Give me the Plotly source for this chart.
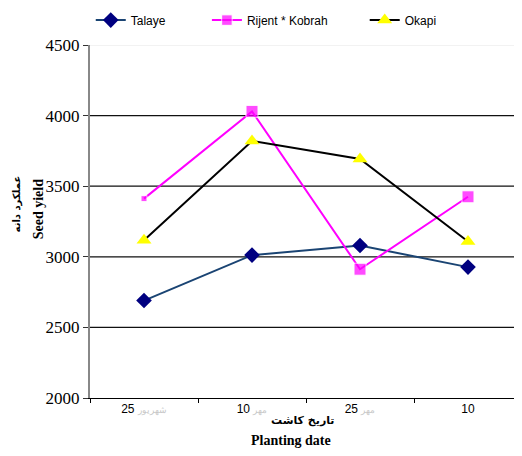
import plotly.graph_objects as go

categories = ["25 شهریور", "10 مهر", "25 مهر", "10"]
tick_numbers = ["25", "10", "25", "10"]
tick_words = ["شهریور", "مهر", "مهر", ""]
talaye = [2690, 3012, 3080, 2927]
rijent = [3412, 4030, 2912, 3425]
okapi = [3118, 3820, 3693, 3108]
rijent_sizes = [6, 12, 12, 12]
y_ticks = [2000, 2500, 3000, 3500, 4000, 4500]

fig = go.Figure()
fig.add_trace(go.Scatter(
    x=categories, y=talaye, name="Talaye", mode="lines+markers",
    line=dict(color="#1a4473", width=2),
    marker=dict(symbol="diamond", size=12, color="#000080"),
    legend="legend"))
fig.add_trace(go.Scatter(
    x=categories, y=rijent, name="Rijent * Kobrah", mode="lines+markers",
    line=dict(color="#ff00ff", width=2),
    marker=dict(symbol="square", size=rijent_sizes, color="#ff00ff"),
    legend="legend2"))
fig.add_trace(go.Scatter(
    x=categories, y=okapi, name="Okapi", mode="lines+markers",
    line=dict(color="#000000", width=2),
    marker=dict(symbol="triangle-up", size=13, color="#ffff00"),
    legend="legend3"))

# gridlines
for v in y_ticks[1:]:
    fig.add_shape(type="line", xref="paper", yref="y", x0=0, x1=1, y0=v, y1=v,
                  line=dict(color="#eeeeee" if v == 4500 else "#111111", width=1.3),
                  layer="below")

ticktext = [f"{n} <span style='color:#c8c8c8;font-size:9px'>{w}</span>" if w else n
            for n, w in zip(tick_numbers, tick_words)]

leg_common = dict(orientation="h", yanchor="middle", xanchor="left", y=0.973,
                  yref="container", xref="container", bgcolor="rgba(0,0,0,0)",
                  font=dict(family="Arial, Liberation Sans", size=12, color="#000"))
fig.update_layout(
    width=514, height=448,
    margin=dict(l=82, r=0, t=37, b=58, autoexpand=False),
    plot_bgcolor="white", paper_bgcolor="white",
    showlegend=True,
    legend=dict(x=0.161, **leg_common),
    legend2=dict(x=0.387, **leg_common),
    legend3=dict(x=0.694, **leg_common),
    xaxis=dict(type="category", categoryorder="array", categoryarray=categories,
               range=[-0.5, 3.5], tickson="boundaries", ticks="outside", ticklen=4,
               tickcolor="#000", showline=True, linecolor="#000", linewidth=1,
               showgrid=False, tickvals=categories, ticktext=ticktext, automargin=False,
               tickfont=dict(family="Arial, Liberation Sans", size=12, color="#000")),
    yaxis=dict(range=[2000, 4500], tickvals=y_ticks, ticks="outside", ticklen=5,
               tickcolor="#333", showline=True, linecolor="#888", linewidth=2,
               showgrid=False, zeroline=False, automargin=False,
               tickfont=dict(family="Liberation Serif, Times New Roman", size=17, color="#000")),
)

fig.add_annotation(text="<b>تاریخ کاشت</b>", xref="paper", yref="paper", x=0.492, y=-0.063,
                   showarrow=False, font=dict(family="DejaVu Sans", size=11, color="#000"),
                   yanchor="middle")
fig.add_annotation(text="<b>Planting date</b>", xref="paper", yref="paper", x=0.465, y=-0.12,
                   showarrow=False, font=dict(family="Liberation Serif", size=14, color="#000"),
                   yanchor="middle")
fig.add_annotation(text="<b>عملکرد دانه</b>", xref="paper", yref="paper", x=-0.17, y=0.55,
                   showarrow=False, textangle=-90,
                   font=dict(family="DejaVu Sans", size=10, color="#000"),
                   xanchor="center", yanchor="middle")
fig.add_annotation(text="<b>Seed yield</b>", xref="paper", yref="paper", x=-0.12, y=0.535,
                   showarrow=False, textangle=-90,
                   font=dict(family="Liberation Serif", size=14, color="#000"),
                   xanchor="center", yanchor="middle")

fig.write_html("out.html")
